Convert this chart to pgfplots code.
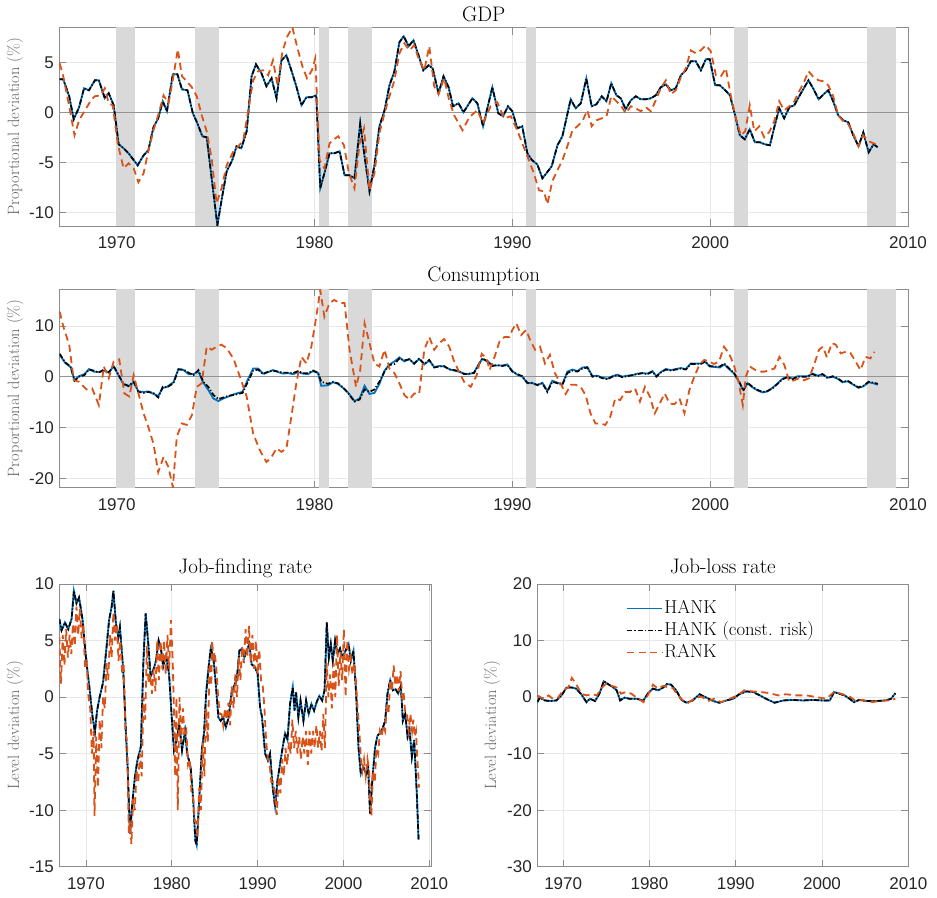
\documentclass[border=0pt]{standalone}
\usepackage{fontspec}
\usepackage{pgfplots}
\usepackage{pgfplotstable}
\pgfplotsset{compat=1.18}
\newfontfamily\tickfont{Liberation Sans}

\definecolor{hankblue}{RGB}{0,114,189}
\definecolor{rankorange}{RGB}{217,83,25}
\definecolor{recgray}{RGB}{217,217,217}

% ---------------- GDP ----------------
\pgfplotstableread{
t v
1967.12 3.3
1967.3 3.3
1967.6 1.6
1967.83 -0.7
1968.1 0.5
1968.35 2.4
1968.6 2.2
1968.9 3.2
1969.1 3.2
1969.4 1.4
1969.6 1.9
1969.85 0.7
1970.1 -3.2
1970.35 -3.6
1970.6 -4.1
1971.06 -5.3
1971.36 -4.3
1971.6 -3.8
1971.86 -1.5
1972.1 -0.6
1972.33 1.1
1972.54 0.1
1972.84 3.8
1973.07 3.8
1973.3 2.3
1973.58 2.2
1973.85 -0.1
1974.08 -1.1
1974.33 -2.4
1974.55 -2.5
1975.09 -11.3
1975.3 -8.8
1975.56 -5.9
1975.84 -4.8
1976.06 -3.4
1976.3 -3.6
1976.57 -1.9
1976.82 3.6
1977.04 4.8
1977.32 3.9
1977.57 2.6
1977.83 3.4
1978.08 1.4
1978.33 5.2
1978.58 5.7
1978.83 4.2
1979.08 2.6
1979.34 0.7
1979.59 1.5
1979.84 1.5
1980.09 1.7
1980.29 -7.6
1980.5 -6.1
1980.76 -4.1
1981.0 -4.1
1981.27 -3.9
1981.52 -6.3
1981.77 -6.3
1982.02 -6.6
1982.31 -1.1
1982.53 -4.4
1982.78 -7.9
1983.03 -5.3
1983.28 -1.4
1983.54 0.2
1983.79 2.7
1984.04 4.1
1984.29 7.0
1984.51 7.6
1984.76 6.6
1985.0 7.2
1985.26 5.7
1985.5 4.2
1985.77 4.7
1985.97 4.4
1986.27 1.9
1986.52 3.6
1986.78 2.5
1987.0 0.6
1987.28 0.9
1987.53 0.0
1987.98 1.4
1988.23 0.9
1988.52 -1.4
1988.99 2.5
1989.29 -0.1
1989.53 -0.4
1989.78 0.6
1990.0 0.1
1990.25 -1.6
1990.5 -1.4
1990.76 -4.1
1991.0 -4.8
1991.26 -5.2
1991.52 -6.6
1991.72 -6.1
1991.99 -5.4
1992.28 -3.3
1992.53 -2.4
1992.95 1.3
1993.2 0.4
1993.46 0.9
1993.74 3.4
1994.01 0.6
1994.25 0.8
1994.52 1.6
1994.76 1.1
1995.0 2.9
1995.26 1.7
1995.48 1.4
1995.73 0.3
1995.99 1.2
1996.24 1.6
1996.49 1.3
1996.75 1.3
1997.0 1.4
1997.25 1.7
1997.5 2.5
1997.76 2.8
1998.01 2.2
1998.26 2.4
1998.52 3.7
1998.77 4.2
1999.02 5.1
1999.27 5.1
1999.53 4.2
1999.78 5.3
1999.98 5.3
2000.25 2.7
2000.49 2.7
2000.76 2.2
2001.0 1.7
2001.26 -0.3
2001.5 -2.3
2001.75 -2.7
2002.0 -1.7
2002.26 -3.0
2002.51 -3.0
2002.76 -3.2
2003.02 -3.3
2003.24 -1.5
2003.49 0.4
2003.74 -0.6
2004.0 0.5
2004.25 0.7
2004.5 1.6
2004.76 2.5
2004.97 3.2
2005.23 2.3
2005.48 1.3
2005.73 1.8
2005.97 2.2
2006.22 1.1
2006.47 -0.3
2006.73 -0.8
2006.98 -1.0
2007.23 -2.3
2007.5 -3.4
2007.74 -2.0
2008.01 -4.0
2008.26 -3.2
2008.47 -3.5
}\gdphank

\pgfplotstableread{
t v
1967.12 4.9
1967.3 3.6
1967.6 0.6
1967.87 -2.3
1968.1 -0.8
1968.4 0.2
1968.7 1.2
1968.9 1.6
1969.2 1.7
1969.4 2.4
1969.6 0.9
1969.8 0.7
1970.05 -3.1
1970.35 -5.6
1970.6 -5.1
1970.86 -5.6
1971.1 -7.0
1971.36 -6.1
1971.6 -3.9
1971.86 -1.8
1972.1 -0.3
1972.37 1.7
1972.62 0.9
1972.87 3.6
1973.09 6.3
1973.3 3.6
1973.54 3.1
1973.8 2.5
1974.05 1.6
1974.3 -0.3
1974.55 -1.9
1974.8 -4.6
1975.05 -9.1
1975.3 -7.6
1975.56 -5.3
1975.9 -3.9
1976.15 -3.4
1976.4 -2.8
1976.65 0.2
1976.9 3.2
1977.15 4.1
1977.4 4.2
1977.66 3.7
1977.9 5.2
1978.13 2.7
1978.38 6.1
1978.63 7.6
1978.88 8.5
1979.14 6.4
1979.39 4.6
1979.62 3.4
1979.87 4.2
1980.04 5.4
1980.26 -4.8
1980.5 -5.6
1980.76 -3.1
1980.98 -2.7
1981.2 -2.4
1981.49 -3.3
1981.74 -6.1
1982.02 -7.6
1982.28 -3.1
1982.5 -1.6
1982.78 -7.8
1983.03 -6.1
1983.28 -2.1
1983.54 -0.1
1983.79 1.6
1984.04 3.2
1984.29 5.9
1984.54 6.9
1984.79 6.2
1985.04 6.7
1985.29 5.2
1985.55 4.2
1985.8 6.6
1986.05 2.6
1986.27 1.8
1986.55 3.4
1986.81 1.2
1987.06 -0.3
1987.48 -1.8
1987.82 -0.5
1988.23 0.2
1988.52 -1.1
1988.9 0.6
1989.24 1.0
1989.58 -0.6
1989.92 -0.4
1990.25 -1.8
1990.5 -3.1
1990.76 -4.4
1991.05 -5.9
1991.35 -7.8
1991.6 -7.9
1991.77 -9.2
1992.02 -6.9
1992.28 -5.8
1992.53 -4.8
1992.78 -3.4
1993.04 -1.8
1993.29 -1.4
1993.54 -0.9
1993.79 0.2
1994.01 -1.4
1994.25 -0.8
1994.52 -0.6
1994.76 -0.4
1995.0 1.6
1995.26 1.1
1995.51 0.6
1995.73 -0.1
1995.99 0.6
1996.24 0.4
1996.49 0.1
1996.75 0.5
1997.0 0.1
1997.25 1.2
1997.5 2.4
1997.76 3.2
1998.01 1.8
1998.26 2.2
1998.52 3.5
1998.77 4.4
1999.02 6.2
1999.27 5.9
1999.53 6.2
1999.78 6.7
2000.03 6.1
2000.29 3.7
2000.54 3.6
2000.79 4.4
2001.05 1.6
2001.3 -0.6
2001.55 -2.3
2001.77 -1.9
2002.0 0.7
2002.23 -1.9
2002.48 -1.4
2002.73 -2.5
2002.98 -2.0
2003.24 -0.9
2003.49 1.1
2003.74 0.2
2004.0 0.6
2004.25 1.1
2004.5 2.1
2004.76 3.1
2004.97 4.1
2005.23 3.5
2005.48 3.2
2005.73 3.1
2005.97 2.7
2006.22 1.6
2006.47 -0.3
2006.73 -0.9
2006.98 -1.2
2007.23 -2.1
2007.5 -3.4
2007.74 -2.3
2008.01 -2.9
2008.26 -3.1
2008.47 -3.3
}\gdprank

% ---------------- Consumption ----------------
\pgfplotstableread{
t v
1967.12 4.5
1967.4 2.8
1967.67 2.0
1967.87 -0.8
1968.1 0.0
1968.37 0.3
1968.6 1.4
1968.84 1.2
1969.1 0.8
1969.35 1.4
1969.6 0.8
1969.85 2.1
1970.1 0.3
1970.35 -1.4
1970.6 -1.8
1970.86 -1.0
1971.1 -3.0
1971.36 -3.2
1971.6 -3.0
1971.86 -3.2
1972.1 -4.1
1972.33 -2.0
1972.54 -2.1
1972.87 -1.3
1973.12 1.4
1973.38 1.4
1973.63 0.8
1973.88 0.3
1974.13 1.3
1974.38 -1.0
1974.63 -2.0
1974.89 -3.6
1975.14 -4.4
1975.39 -4.1
1975.64 -3.8
1975.9 -3.6
1976.15 -3.4
1976.36 -3.2
1976.6 -1.3
1976.9 1.2
1977.15 1.4
1977.4 0.5
1977.66 1.0
1977.9 1.2
1978.16 1.0
1978.41 0.8
1978.66 0.8
1978.92 0.7
1979.17 1.1
1979.42 0.7
1979.67 0.7
1979.92 1.2
1980.18 0.8
1980.34 -1.0
1980.68 -1.4
1980.93 -1.0
1981.18 -1.3
1981.44 -2.1
1981.69 -3.2
1982.02 -4.9
1982.28 -4.5
1982.53 -2.5
1982.78 -3.0
1983.03 -2.5
1983.28 -1.0
1983.54 1.0
1983.79 2.3
1984.04 2.5
1984.29 3.6
1984.54 3.2
1984.79 3.4
1985.04 2.6
1985.29 3.6
1985.55 2.5
1985.8 3.3
1986.05 1.8
1986.3 2.0
1986.55 2.1
1986.81 1.4
1987.06 1.3
1987.3 1.1
1987.56 0.5
1987.8 0.6
1988.06 0.7
1988.25 2.0
1988.48 3.6
1988.74 3.0
1988.99 2.1
1989.24 2.3
1989.49 2.1
1989.75 2.3
1990.0 1.0
1990.25 0.5
1990.5 0.1
1990.76 -1.2
1991.0 -1.3
1991.26 -1.6
1991.52 -1.3
1991.77 -3.0
1992.02 -1.0
1992.28 -1.3
1992.53 -1.6
1992.78 0.7
1993.04 1.2
1993.29 1.0
1993.54 1.6
1993.79 1.8
1994.05 0.0
1994.3 0.1
1994.55 -0.3
1994.81 -0.5
1995.06 0.0
1995.31 0.3
1995.56 -0.1
1995.82 0.1
1996.07 0.3
1996.32 0.5
1996.58 0.7
1996.83 0.5
1997.08 1.0
1997.28 0.0
1997.5 0.8
1997.76 1.4
1998.01 1.2
1998.26 1.4
1998.52 1.6
1998.77 1.4
1999.02 2.5
1999.27 2.5
1999.53 2.5
1999.75 3.0
1999.98 2.1
2000.25 2.0
2000.49 2.0
2000.71 2.6
2000.96 1.6
2001.21 0.7
2001.47 -1.0
2001.67 -2.8
2001.89 -1.2
2002.14 -2.0
2002.39 -2.6
2002.65 -3.0
2002.9 -2.8
2003.15 -2.3
2003.41 -1.4
2003.66 -0.5
2003.91 -0.1
2004.17 -0.5
2004.42 0.0
2004.67 0.0
2004.92 0.0
2005.18 0.5
2005.43 0.1
2005.68 0.5
2005.94 -0.3
2006.19 0.1
2006.44 -0.3
2006.69 -1.0
2006.95 -0.8
2007.2 -1.4
2007.5 -2.1
2007.74 -1.8
2008.01 -1.0
2008.26 -1.2
2008.47 -1.4
}\conshankc

\pgfplotstableread{
t v
1967.12 4.3
1967.4 2.7
1967.67 1.9
1967.87 -0.7
1968.1 0.1
1968.37 0.5
1968.6 1.5
1968.84 1.0
1969.1 0.9
1969.35 1.2
1969.6 0.9
1969.85 2.0
1970.1 0.2
1970.35 -1.5
1970.6 -1.9
1970.86 -1.1
1971.1 -2.9
1971.36 -3.0
1971.6 -2.9
1971.86 -3.4
1972.1 -3.8
1972.33 -2.2
1972.54 -2.0
1972.87 -1.1
1973.12 1.5
1973.38 1.3
1973.63 0.5
1973.88 0.5
1974.13 1.0
1974.38 -1.2
1974.63 -2.6
1974.89 -4.3
1975.14 -4.8
1975.39 -4.3
1975.64 -3.9
1975.9 -3.5
1976.15 -3.2
1976.36 -3.0
1976.6 -0.8
1976.9 1.6
1977.15 1.6
1977.4 0.6
1977.66 0.9
1977.9 1.3
1978.16 0.9
1978.41 0.6
1978.66 0.7
1978.92 0.5
1979.17 0.9
1979.42 0.6
1979.67 0.5
1979.92 1.1
1980.18 0.7
1980.34 -1.8
1980.68 -1.7
1980.93 -1.1
1981.18 -1.4
1981.44 -2.2
1981.69 -3.1
1982.02 -4.8
1982.28 -4.3
1982.53 -1.8
1982.78 -3.4
1983.03 -3.2
1983.28 -1.4
1983.54 1.2
1983.79 2.4
1984.04 3.0
1984.29 3.8
1984.54 3.0
1984.79 3.5
1985.04 2.5
1985.29 3.5
1985.55 2.4
1985.8 3.2
1986.05 1.9
1986.3 2.1
1986.55 2.0
1986.81 1.5
1987.06 1.2
1987.3 1.0
1987.56 0.6
1987.8 0.5
1988.06 0.8
1988.25 2.1
1988.48 3.5
1988.74 3.1
1988.99 2.2
1989.24 2.2
1989.49 2.2
1989.75 2.4
1990.0 1.1
1990.25 0.4
1990.5 0.0
1990.76 -1.3
1991.0 -1.2
1991.26 -1.7
1991.52 -1.2
1991.77 -2.8
1992.02 -0.8
1992.28 -1.2
1992.53 -1.5
1992.78 1.0
1993.04 1.4
1993.29 1.1
1993.54 1.8
1993.79 1.9
1994.05 0.1
1994.3 0.2
1994.55 -0.2
1994.81 -0.4
1995.06 0.1
1995.31 0.4
1995.56 0.0
1995.82 0.2
1996.07 0.3
1996.32 0.6
1996.58 0.7
1996.83 0.6
1997.08 1.1
1997.28 0.1
1997.5 0.9
1997.76 1.5
1998.01 1.3
1998.26 1.5
1998.52 1.7
1998.77 1.5
1999.02 2.6
1999.27 2.6
1999.53 2.6
1999.75 2.9
1999.98 2.0
2000.25 1.9
2000.49 1.8
2000.71 2.4
2000.96 1.5
2001.21 0.6
2001.47 -1.1
2001.67 -2.6
2001.89 -1.3
2002.14 -2.1
2002.39 -2.7
2002.65 -3.1
2002.9 -2.9
2003.15 -2.2
2003.41 -1.3
2003.66 -0.4
2003.91 0.0
2004.17 -0.4
2004.42 0.1
2004.67 0.1
2004.92 0.1
2005.18 0.6
2005.43 0.2
2005.68 0.5
2005.94 -0.2
2006.19 0.0
2006.44 -0.4
2006.69 -1.1
2006.95 -0.9
2007.2 -1.5
2007.5 -2.2
2007.74 -1.9
2008.01 -1.1
2008.26 -1.3
2008.47 -1.6
}\conshank

\pgfplotstableread{
t v
1967.12 12.8
1967.3 9.9
1967.6 6.3
1967.83 -0.7
1968.1 -1.0
1968.47 -2.5
1968.76 -2.3
1969.1 -5.6
1969.35 2.0
1969.6 -0.3
1969.85 3.0
1970.13 3.4
1970.39 -3.3
1970.64 -3.9
1970.86 0.3
1971.1 -3.3
1971.36 -7.2
1971.6 -9.9
1971.86 -13.2
1972.1 -18.8
1972.37 -15.8
1972.62 -17.8
1972.84 -21.8
1973.04 -11.8
1973.3 -9.2
1973.54 -9.5
1973.8 -7.6
1974.05 -2.0
1974.3 -1.3
1974.55 5.9
1974.8 5.3
1975.05 5.9
1975.3 6.3
1975.56 5.6
1975.9 3.6
1976.23 0.0
1976.57 -3.9
1976.9 -11.2
1977.24 -14.5
1977.57 -16.8
1977.83 -15.8
1978.08 -14.1
1978.33 -14.8
1978.58 -14.1
1978.83 -7.9
1979.08 -1.3
1979.34 3.9
1979.59 2.6
1979.84 5.9
1980.09 11.8
1980.29 17.1
1980.5 11.8
1980.76 14.5
1981.0 15.1
1981.27 14.5
1981.52 14.5
1981.77 5.3
1982.1 -2.0
1982.31 1.3
1982.53 10.5
1982.78 6.6
1983.03 2.6
1983.28 2.0
1983.54 5.3
1983.79 1.6
1984.04 0.7
1984.29 -1.3
1984.54 -3.6
1984.79 -4.5
1985.04 -3.3
1985.29 -3.4
1985.55 5.3
1985.8 7.8
1986.05 5.3
1986.3 6.6
1986.55 7.4
1986.81 5.9
1987.06 3.0
1987.3 1.0
1987.56 -1.0
1987.9 -2.0
1988.2 0.3
1988.45 4.5
1988.7 3.6
1988.85 1.3
1989.1 3.9
1989.35 6.9
1989.6 7.8
1989.85 7.8
1990.0 9.2
1990.2 10.5
1990.45 8.2
1990.7 9.2
1990.9 7.2
1991.15 5.3
1991.4 5.9
1991.65 2.6
1991.9 4.3
1992.15 0.7
1992.45 -1.4
1992.7 -3.4
1992.95 -1.6
1993.2 -1.6
1993.45 -2.0
1993.7 -3.6
1993.95 -7.2
1994.2 -9.2
1994.45 -9.2
1994.7 -9.5
1994.95 -7.9
1995.2 -4.3
1995.45 -4.6
1995.7 -3.0
1995.95 -3.0
1996.2 -2.3
1996.45 -4.9
1996.7 -2.0
1996.95 -3.9
1997.2 -7.2
1997.45 -5.3
1997.7 -3.3
1997.95 -5.3
1998.2 -5.4
1998.45 -4.3
1998.7 -7.2
1998.95 -2.6
1999.2 0.0
1999.45 2.3
1999.7 3.3
1999.95 3.0
2000.2 2.5
2000.45 3.0
2000.7 5.9
2000.95 4.6
2001.2 2.3
2001.45 -1.3
2001.65 -5.6
2001.8 0.0
2002.0 2.0
2002.25 1.4
2002.5 1.0
2002.75 1.0
2003.0 1.3
2003.25 1.6
2003.5 3.9
2003.75 2.3
2004.0 -1.0
2004.25 -0.7
2004.5 -0.3
2004.75 -0.7
2005.0 -0.3
2005.25 2.3
2005.5 5.3
2005.7 5.9
2005.9 3.8
2006.15 6.6
2006.35 6.3
2006.6 4.6
2006.85 4.9
2007.1 4.6
2007.35 3.0
2007.6 1.3
2007.85 3.9
2008.1 3.6
2008.3 4.9
}\consrank

% ---------------- Job-finding rate ----------------
\pgfplotstableread{
t v
1966.9 6.9
1967.16 5.9
1967.55 6.6
1967.94 6.0
1968.33 6.9
1968.6 9.4
1968.9 8.3
1969.2 8.8
1969.6 6.9
1970.0 3.5
1970.4 0.9
1970.78 -1.8
1971.05 -3.1
1971.3 -1.2
1971.6 0.0
1972.0 1.3
1972.4 4.4
1972.7 6.8
1973.0 8.0
1973.2 9.4
1973.5 6.5
1973.77 5.3
1973.96 6.2
1974.35 2.4
1974.66 -3.2
1974.86 -6.2
1975.13 -12.1
1975.44 -9.1
1975.7 -7.1
1976.0 -5.6
1976.4 -4.4
1976.7 3.2
1976.96 7.4
1977.27 4.7
1977.54 1.8
1977.85 2.4
1978.16 3.2
1978.47 5.0
1978.74 4.3
1979.0 2.7
1979.33 3.7
1979.68 2.1
1980.0 -1.8
1980.26 -4.7
1980.57 -3.8
1980.88 -2.4
1981.2 -4.7
1981.54 -3.0
1981.8 -5.0
1982.2 -6.2
1982.5 -9.1
1982.75 -12.7
1982.9 -13.1
1983.2 -9.1
1983.5 -4.7
1983.76 -3.2
1984.0 0.3
1984.26 2.4
1984.54 4.3
1984.85 3.5
1985.16 0.9
1985.43 -1.8
1985.7 -2.1
1986.0 -1.8
1986.3 -2.7
1986.63 -1.8
1986.95 0.3
1987.25 1.0
1987.57 1.5
1987.88 4.1
1988.19 4.3
1988.46 3.5
1988.73 4.1
1989.04 4.7
1989.3 2.9
1989.63 2.7
1990.0 2.1
1990.29 -0.9
1990.52 -1.8
1990.88 -5.0
1991.2 -5.6
1991.45 -5.0
1991.76 -8.0
1992.04 -9.7
1992.31 -7.4
1992.62 -5.9
1992.93 -4.4
1993.2 -3.2
1993.48 -3.8
1993.78 -0.6
1994.1 0.9
1994.3 -1.2
1994.48 0.4
1994.75 -1.8
1995.0 -0.3
1995.34 -2.1
1995.65 -0.3
1995.96 -1.5
1996.27 -0.6
1996.58 -1.2
1996.9 -0.4
1997.2 0.1
1997.52 -0.3
1997.8 0.6
1998.06 6.6
1998.3 3.5
1998.53 4.7
1998.76 3.2
1999.03 5.0
1999.3 3.8
1999.6 4.3
1999.92 3.5
2000.24 4.1
2000.6 4.7
2000.86 3.2
2001.17 4.1
2001.48 0.3
2001.75 -4.4
2002.02 -6.8
2002.33 -6.2
2002.65 -6.8
2002.88 -6.2
2003.1 -10.3
2003.42 -6.8
2003.7 -4.4
2003.97 -3.4
2004.28 -3.2
2004.59 -2.7
2004.86 -2.1
2005.13 0.3
2005.45 1.5
2005.75 0.6
2006.07 0.7
2006.38 0.3
2006.69 1.0
2006.92 -2.1
2007.2 -1.5
2007.47 -3.5
2007.7 -2.9
2007.97 -5.3
2008.24 -3.8
2008.55 -8.6
2008.75 -12.6
}\jfhank

\pgfplotstableread{
t v
1966.9 5.3
1967.1 1.2
1967.3 5.5
1967.5 2.8
1967.7 6.0
1967.9 3.5
1968.1 5.5
1968.3 3.8
1968.5 6.5
1968.7 4.5
1968.9 8.0
1969.1 5.5
1969.3 7.8
1969.5 5.2
1969.7 6.5
1969.9 2.5
1970.1 3.0
1970.3 0.0
1970.5 -1.0
1970.7 -5.0
1970.9 -3.0
1971.0 -10.5
1971.2 -3.5
1971.4 -8.0
1971.6 -2.0
1971.8 -4.5
1972.0 0.0
1972.2 -1.0
1972.4 3.0
1972.6 1.5
1972.8 5.5
1973.0 3.5
1973.2 7.5
1973.4 5.0
1973.6 6.5
1973.8 3.2
1974.0 5.0
1974.2 2.5
1974.4 3.0
1974.6 -3.0
1974.8 -4.0
1975.0 -12.0
1975.15 -11.0
1975.3 -13.0
1975.5 -9.0
1975.7 -10.0
1975.9 -6.5
1976.1 -7.5
1976.3 -5.0
1976.5 -7.0
1976.7 0.0
1976.9 -2.0
1977.1 4.5
1977.3 1.2
1977.5 2.0
1977.7 0.3
1977.9 2.5
1978.1 0.5
1978.3 5.0
1978.5 1.5
1978.7 5.0
1978.9 2.5
1979.1 5.0
1979.3 2.0
1979.5 5.5
1979.7 2.5
1979.9 6.8
1980.1 3.5
1980.25 -1.0
1980.4 -7.0
1980.55 0.0
1980.7 -10.0
1980.9 0.0
1981.1 -4.0
1981.3 -1.0
1981.5 -3.5
1981.7 -3.0
1981.9 -6.0
1982.1 -5.5
1982.3 -8.5
1982.5 -9.0
1982.7 -11.0
1982.9 -11.0
1983.0 -12.5
1983.2 -8.0
1983.4 -10.0
1983.6 -4.0
1983.8 -7.0
1984.0 -1.0
1984.2 -4.0
1984.4 3.0
1984.6 1.0
1984.7 5.0
1984.85 3.5
1985.0 4.0
1985.2 2.5
1985.4 0.0
1985.6 -1.5
1985.8 -1.5
1986.0 -2.5
1986.2 -1.0
1986.4 -2.0
1986.6 -0.5
1986.8 -2.5
1987.0 1.0
1987.2 -1.0
1987.4 2.0
1987.6 0.0
1987.8 3.5
1988.0 1.5
1988.2 4.5
1988.4 3.0
1988.6 6.0
1988.8 3.5
1989.0 6.3
1989.2 3.0
1989.4 5.5
1989.6 2.5
1989.8 5.0
1990.0 2.0
1990.2 4.2
1990.4 1.5
1990.6 1.0
1990.8 -1.0
1991.0 -4.0
1991.2 -5.5
1991.4 -6.0
1991.6 -7.5
1991.8 -7.5
1992.0 -8.5
1992.1 -9.5
1992.25 -10.4
1992.45 -7.0
1992.65 -8.5
1992.85 -5.5
1993.05 -7.0
1993.25 -4.5
1993.45 -6.0
1993.65 -4.0
1993.85 -5.0
1994.05 -2.0
1994.25 -4.5
1994.45 -3.0
1994.65 -5.0
1994.85 -3.5
1995.05 -5.5
1995.25 -3.5
1995.45 -5.0
1995.65 -3.0
1995.85 -6.0
1996.05 -3.0
1996.25 -5.0
1996.45 -3.0
1996.65 -4.5
1996.85 -2.5
1997.05 -4.5
1997.25 -3.0
1997.45 -4.8
1997.65 -1.5
1997.85 -4.5
1998.05 3.0
1998.25 0.0
1998.45 2.0
1998.65 -1.0
1998.85 3.0
1999.05 0.0
1999.25 5.5
1999.45 1.0
1999.65 4.0
1999.85 1.5
2000.05 6.0
2000.25 0.0
2000.45 5.0
2000.65 2.5
2000.85 3.5
2001.05 2.0
2001.25 3.0
2001.45 1.5
2001.65 -1.0
2001.85 -3.0
2002.0 -5.0
2002.2 -6.5
2002.4 -5.5
2002.6 -7.0
2002.8 -5.5
2003.0 -6.5
2003.1 -9.0
2003.25 -10.5
2003.45 -6.5
2003.65 -7.5
2003.85 -4.5
2004.05 -5.0
2004.25 -3.0
2004.45 -3.5
2004.65 -2.5
2004.85 -3.0
2005.05 -1.0
2005.25 -1.5
2005.45 1.5
2005.65 0.5
2005.85 2.8
2006.05 1.0
2006.25 2.0
2006.45 0.5
2006.65 2.3
2006.85 0.0
2007.0 0.5
2007.2 -1.5
2007.4 -1.5
2007.6 -3.0
2007.8 -1.5
2008.0 -3.0
2008.15 -2.0
2008.3 -3.5
2008.45 -3.0
2008.6 -5.5
2008.7 -6.5
2008.8 -8.0
}\jfrank

% ---------------- Job-loss rate ----------------
\pgfplotstableread{
t v
1967.0 -0.9
1967.3 -0.1
1967.9 -0.6
1968.5 -0.7
1969.2 -0.6
1969.8 0.3
1970.4 1.7
1971.0 1.7
1971.5 1.5
1972.1 0.5
1972.7 -0.9
1973.1 -0.3
1973.7 -0.7
1974.2 0.6
1974.7 2.8
1975.2 2.3
1975.8 1.7
1976.2 1.2
1976.6 -0.6
1977.1 -0.1
1977.7 -0.3
1978.5 -0.3
1979.3 -0.6
1979.8 0.6
1980.4 1.5
1981.0 1.2
1981.6 1.7
1982.0 2.3
1982.5 2.2
1983.1 1.2
1983.7 -0.5
1984.3 -1.0
1985.0 -0.6
1985.8 0.5
1986.6 -0.1
1987.4 -0.7
1988.1 -1.0
1988.9 -0.6
1989.7 -0.3
1990.4 0.5
1991.2 1.0
1992.0 0.9
1992.8 0.3
1993.5 -0.3
1994.5 -1.0
1995.5 -0.6
1996.6 -0.5
1997.8 -0.6
1998.9 -0.5
2000.1 -0.6
2000.9 -0.6
2001.4 0.9
2002.0 0.6
2002.6 0.3
2003.2 -0.3
2003.7 -0.9
2004.3 -0.5
2005.1 -0.7
2006.3 -0.7
2007.4 -0.6
2008.0 -0.3
2008.5 0.7
}\jlhank

\pgfplotstableread{
t v
1967.0 0.3
1967.7 -0.3
1968.3 0.3
1968.8 -0.3
1969.4 -0.1
1970.0 1.2
1970.6 1.7
1971.0 3.4
1971.5 2.3
1972.1 0.6
1972.7 0.3
1973.3 0.5
1973.9 0.3
1974.5 1.7
1975.0 2.4
1975.6 2.0
1976.2 1.7
1976.7 0.6
1977.3 0.9
1977.9 0.6
1978.7 -0.3
1979.3 -0.9
1979.8 0.3
1980.4 2.2
1981.0 1.5
1981.6 2.0
1982.2 1.7
1982.7 1.6
1983.3 0.3
1983.9 -0.6
1984.5 -1.0
1985.2 -0.3
1986.0 0.1
1986.8 -0.7
1987.5 -0.3
1988.3 -0.9
1989.3 -0.3
1990.2 0.3
1991.0 1.2
1992.0 1.0
1992.9 0.9
1993.9 0.7
1994.9 0.3
1995.8 0.5
1997.0 0.3
1998.2 0.3
1999.3 0.0
2000.5 -0.3
2001.4 0.9
2002.2 0.6
2003.2 0.1
2003.9 -0.7
2004.7 -0.5
2005.9 -0.9
2006.8 -0.6
2007.8 -0.6
2008.5 -0.3
}\jlrank

% ---------------- shared look ----------------
\tikzset{
  hank/.style={draw=hankblue, solid, line width=1.8pt},
  hankc/.style={draw=black, line width=1.7pt, dash pattern=on 5pt off 2pt on 1.2pt off 2pt},
  rank/.style={draw=rankorange, line width=1.8pt, dash pattern=on 7pt off 4.5pt},
  band/.style={fill=recgray, draw=none, line width=0pt},
  zeroline/.style={draw=black!42, line width=1.3pt, solid},
}
\pgfplotsset{
  mlab/.style={
    scale only axis,
    axis line style={draw=black!45, line width=0.6pt},
    every tick/.style={draw=black!45, line width=0.6pt},
    tick align=inside,
    major tick length=7pt,
    grid=major,
    major grid style={draw=black!9, line width=0.6pt},
    ticklabel style={font=\fontsize{17}{17}\tickfont, text=black!85},
    /pgf/number format/assume math mode=true,
    xticklabel style={/pgf/number format/1000 sep={}, yshift=-7.5pt},
    yticklabel style={xshift=-2pt},
    xtick={1970,1980,...,2010},
    ylabel style={font=\fontsize{16.4}{17}\selectfont, text=black!60, anchor=center},
    title style={font=\fontsize{21}{22}\selectfont, at={(axis description cs:0.5,1)}, anchor=base},
  },
}

\begin{document}
\begin{tikzpicture}
\useasboundingbox (0,0) rectangle (937pt,897pt);

% GDP
\begin{axis}[mlab,
  at={(59.3pt,671pt)}, anchor=south west,
  width=848.7pt, height=198.3pt,
  xmin=1967.1, xmax=2010, ymin=-11.37, ymax=8.46,
  ytick={-10,-5,0,5},
  title={GDP}, title style={yshift=0.5pt},
  ylabel={Proportional deviation (\%)},
  ylabel style={at={(axis description cs:-0.0522,0.5)}},
]
\addplot[band, forget plot] coordinates {(1969.98,-30) (1969.98,30) (1970.94,30) (1970.94,-30)};
\addplot[band, forget plot] coordinates {(1973.96,-30) (1973.96,30) (1975.19,30) (1975.19,-30)};
\addplot[band, forget plot] coordinates {(1980.23,-30) (1980.23,30) (1980.71,30) (1980.71,-30)};
\addplot[band, forget plot] coordinates {(1981.71,-30) (1981.71,30) (1982.92,30) (1982.92,-30)};
\addplot[band, forget plot] coordinates {(1990.69,-30) (1990.69,30) (1991.18,30) (1991.18,-30)};
\addplot[band, forget plot] coordinates {(2001.18,-30) (2001.18,30) (2001.92,30) (2001.92,-30)};
\addplot[band, forget plot] coordinates {(2007.93,-30) (2007.93,30) (2009.4,30) (2009.4,-30)};
\addplot[zeroline, forget plot] coordinates {(1960,0) (2015,0)};
\addplot[hank] table[x=t,y=v] {\gdphank};
\addplot[hankc] table[x=t,y=v] {\gdphank};
\addplot[rank] table[x=t,y=v] {\gdprank};
\end{axis}

% Consumption
\begin{axis}[mlab,
  at={(59.3pt,409.3pt)}, anchor=south west,
  width=848.7pt, height=198.4pt,
  xmin=1967.1, xmax=2010, ymin=-21.85, ymax=17.2,
  ytick={-20,-10,0,10},
  title={Consumption}, title style={yshift=1.5pt},
  ylabel={Proportional deviation (\%)},
  ylabel style={at={(axis description cs:-0.0522,0.5)}},
]
\addplot[band, forget plot] coordinates {(1969.98,-30) (1969.98,30) (1970.94,30) (1970.94,-30)};
\addplot[band, forget plot] coordinates {(1973.96,-30) (1973.96,30) (1975.19,30) (1975.19,-30)};
\addplot[band, forget plot] coordinates {(1980.23,-30) (1980.23,30) (1980.71,30) (1980.71,-30)};
\addplot[band, forget plot] coordinates {(1981.71,-30) (1981.71,30) (1982.92,30) (1982.92,-30)};
\addplot[band, forget plot] coordinates {(1990.69,-30) (1990.69,30) (1991.18,30) (1991.18,-30)};
\addplot[band, forget plot] coordinates {(2001.18,-30) (2001.18,30) (2001.92,30) (2001.92,-30)};
\addplot[band, forget plot] coordinates {(2007.93,-30) (2007.93,30) (2009.4,30) (2009.4,-30)};
\addplot[zeroline, forget plot] coordinates {(1960,0) (2015,0)};
\addplot[hank] table[x=t,y=v] {\conshank};
\addplot[hankc] table[x=t,y=v] {\conshankc};
\addplot[rank] table[x=t,y=v] {\consrank};
\end{axis}

% Job-finding rate
\begin{axis}[mlab,
  at={(59.3pt,30.3pt)}, anchor=south west,
  width=371.7pt, height=282.7pt,
  xmin=1966.9, xmax=2010.2, ymin=-15, ymax=10,
  ytick={-15,-10,-5,0,5,10},
  title={Job-finding rate}, title style={yshift=4pt},
  ylabel={Level deviation (\%)},
  ylabel style={at={(axis description cs:-0.119,0.5)}},
]
\addplot[hank] table[x=t,y=v] {\jfhank};
\addplot[hankc] table[x=t,y=v] {\jfhank};
\addplot[rank] table[x=t,y=v] {\jfrank};
\end{axis}

% Job-loss rate
\begin{axis}[mlab,
  at={(537.3pt,30.3pt)}, anchor=south west,
  width=371pt, height=282.7pt,
  xmin=1967.0, xmax=2010.0, ymin=-30, ymax=20,
  ytick={-30,-20,-10,0,10,20},
  title={Job-loss rate}, title style={yshift=4pt},
  ylabel={Level deviation (\%)},
  ylabel style={at={(axis description cs:-0.122,0.5)}},
  legend style={at={(axis description cs:0.232,0.96)}, anchor=north west,
    draw=none, fill=none, font=\fontsize{18.7}{20}\selectfont,
    row sep=0pt, column sep=0pt,
    nodes={inner sep=1pt, text height=14.5pt, text depth=5.5pt}},
  legend cell align=left,
  legend image code/.code={\draw[#1] (0pt,0pt) -- (35pt,0pt);},
  legend image post style={line width=1.8pt},
]
\addplot[hank] table[x=t,y=v] {\jlhank};
\addlegendentry{HANK}
\addplot[hankc] table[x=t,y=v] {\jlhank};
\addlegendentry{HANK (const. risk)}
\addplot[rank] table[x=t,y=v] {\jlrank};
\addlegendentry{RANK}
\end{axis}
\end{tikzpicture}
\end{document}
